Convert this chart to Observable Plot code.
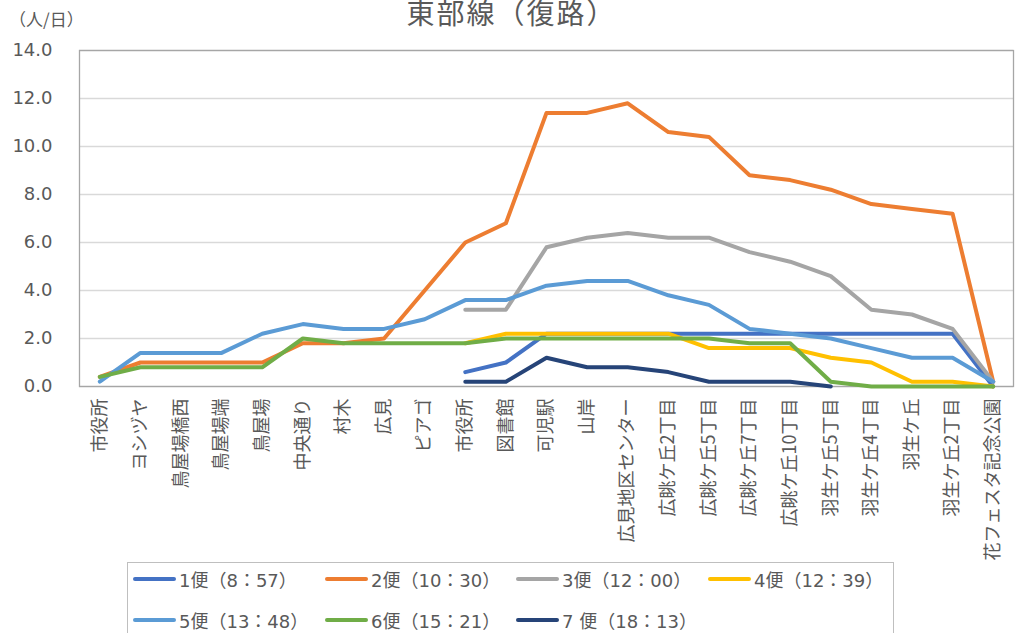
<!DOCTYPE html>
<html>
<head>
<meta charset="utf-8">
<script src="https://cdn.jsdelivr.net/npm/d3@7"></script>
<script src="https://cdn.jsdelivr.net/npm/@observablehq/plot@0.6"></script>
<style>
  html, body { margin: 0; padding: 0; background: #fff; }
  #wrap { position: relative; width: 1023px; height: 633px; overflow: hidden; font-family: "DejaVu Sans", "Noto Sans CJK JP", sans-serif; color: #595959; }
  #title { position: absolute; left: 0; width: 1023px; top: -8px; text-align: center; font-family: "Noto Sans CJK JP"; font-size: 28px; letter-spacing: 2px; line-height: 40px; color: #595959; }
  #ylab { position: absolute; left: 9px; top: 7px; font-family: "Noto Sans CJK JP"; font-size: 17px; line-height: 24px; color: #595959; }
  #chart { position: absolute; left: 0; top: 0; }
  #legend { position: absolute; left: 127px; top: 562px; width: 767px; height: 120px; border: 1px solid #bfbfbf; box-sizing: border-box; }
  .item { position: absolute; display: flex; align-items: center; height: 24px; font-size: 18px; white-space: nowrap; color: #595959; }
  .sw { display: inline-block; width: 43px; height: 4px; border-radius: 2px; margin-right: 3px; }
</style>
</head>
<body>
<div id="wrap">
  <div id="chart"></div>
  <div id="title"></div>
  <div id="ylab"></div>
  <div id="legend"></div>
</div>
<script>
// ---- data ----
const stops = ["市役所","ヨシヅヤ","鳥屋場橋西","鳥屋場端","鳥屋場","中央通り","村木","広見","ピアゴ","市役所","図書館","可児駅","山岸","広見地区センター","広眺ケ丘2丁目","広眺ケ丘5丁目","広眺ケ丘7丁目","広眺ケ丘10丁目","羽生ケ丘5丁目","羽生ケ丘4丁目","羽生ケ丘","羽生ケ丘2丁目","花フェスタ記念公園"];
const seriesNames = ["1便（8：57）","2便（10：30）","3便（12：00）","4便（12：39）","5便（13：48）","6便（15：21）","7 便（18：13）"];
const seriesColors = ["#4472C4","#ED7D31","#A5A5A5","#FFC000","#5B9BD5","#70AD47","#264478"];
const _ = null;
const bin1 = [_,_,_,_,_,_,_,_,_, 0.6,1.0,2.2,2.2,2.2,2.2,2.2,2.2,2.2,2.2,2.2,2.2,2.2,0.0];
const bin2 = [0.4,1.0,1.0,1.0,1.0,1.8,1.8,2.0,4.0, 6.0,6.8,11.4,11.4,11.8,10.6,10.4,8.8,8.6,8.2,7.6,7.4,7.2,0.2];
const bin3 = [_,_,_,_,_,_,_,_,_, 3.2,3.2,5.8,6.2,6.4,6.2,6.2,5.6,5.2,4.6,3.2,3.0,2.4,0.2];
const bin4 = [_,_,_,_,_,_,_,_,_, 1.8,2.2,2.2,2.2,2.2,2.2,1.6,1.6,1.6,1.2,1.0,0.2,0.2,0.0];
const bin5 = [0.2,1.4,1.4,1.4,2.2,2.6,2.4,2.4,2.8, 3.6,3.6,4.2,4.4,4.4,3.8,3.4,2.4,2.2,2.0,1.6,1.2,1.2,0.2];
const bin6 = [0.4,0.8,0.8,0.8,0.8,2.0,1.8,1.8,1.8, 1.8,2.0,2.0,2.0,2.0,2.0,2.0,1.8,1.8,0.2,0.0,0.0,0.0,0.0];
const bin7 = [_,_,_,_,_,_,_,_,_, 0.2,0.2,1.2,0.8,0.8,0.6,0.2,0.2,0.2,0.0,_,_,_,_];
const yTicks = [0,2,4,6,8,10,12,14];

// ---- build table ----
const allSeries = [bin1,bin2,bin3,bin4,bin5,bin6,bin7];
const rows = allSeries.flatMap((vals, k) =>
  vals.map((v, i) => ({i, v, name: seriesNames[k]})).filter(d => d.v !== null));

const chart = Plot.plot({
  width: 1023,
  height: 560,
  marginLeft: 79,
  marginRight: 10,
  marginTop: 50,
  marginBottom: 174,
  style: {fontSize: "18px", fontFamily: "'DejaVu Sans', 'Noto Sans CJK JP', sans-serif", color: "#595959", background: "transparent"},
  x: {type: "linear", domain: [-0.5, stops.length - 0.5]},
  y: {domain: [0, 14]},
  color: {domain: seriesNames, range: seriesColors},
  marks: [
    Plot.gridY(yTicks, {stroke: "#d9d9d9", strokeOpacity: 1, strokeWidth: 1.3}),
    Plot.frame({stroke: "#a6a6a6", strokeWidth: 1.3}),
    Plot.axisY(yTicks, {tickSize: 0, tickPadding: 27, tickFormat: d => d.toFixed(1), fill: "#595959", label: null}),
    Plot.axisX(d3.range(stops.length), {tickSize: 0, tickPadding: 12, tickRotate: -90, tickFormat: i => stops[i], fill: "#595959", label: null, fontFamily: "'Noto Sans CJK JP'"}),
    Plot.line(rows, {x: "i", y: "v", z: "name", stroke: "name", strokeWidth: 4, strokeLinejoin: "round", strokeLinecap: "round"})
  ]
});
document.getElementById("chart").appendChild(chart);

document.getElementById("title").textContent = "東部線（復路）";
document.getElementById("ylab").textContent = "（人/日）";

// legend
const legPos = [[5,4],[197,4],[388,4],[580,4],[5,45],[197,45],[388,45]];
const legend = document.getElementById("legend");
seriesNames.forEach((n, k) => {
  const it = document.createElement("div");
  it.className = "item";
  it.style.left = legPos[k][0] + "px";
  it.style.top = legPos[k][1] + "px";
  const sw = document.createElement("span");
  sw.className = "sw";
  sw.style.background = seriesColors[k];
  it.appendChild(sw);
  it.appendChild(document.createTextNode(n));
  legend.appendChild(it);
});
</script>
</body>
</html>
